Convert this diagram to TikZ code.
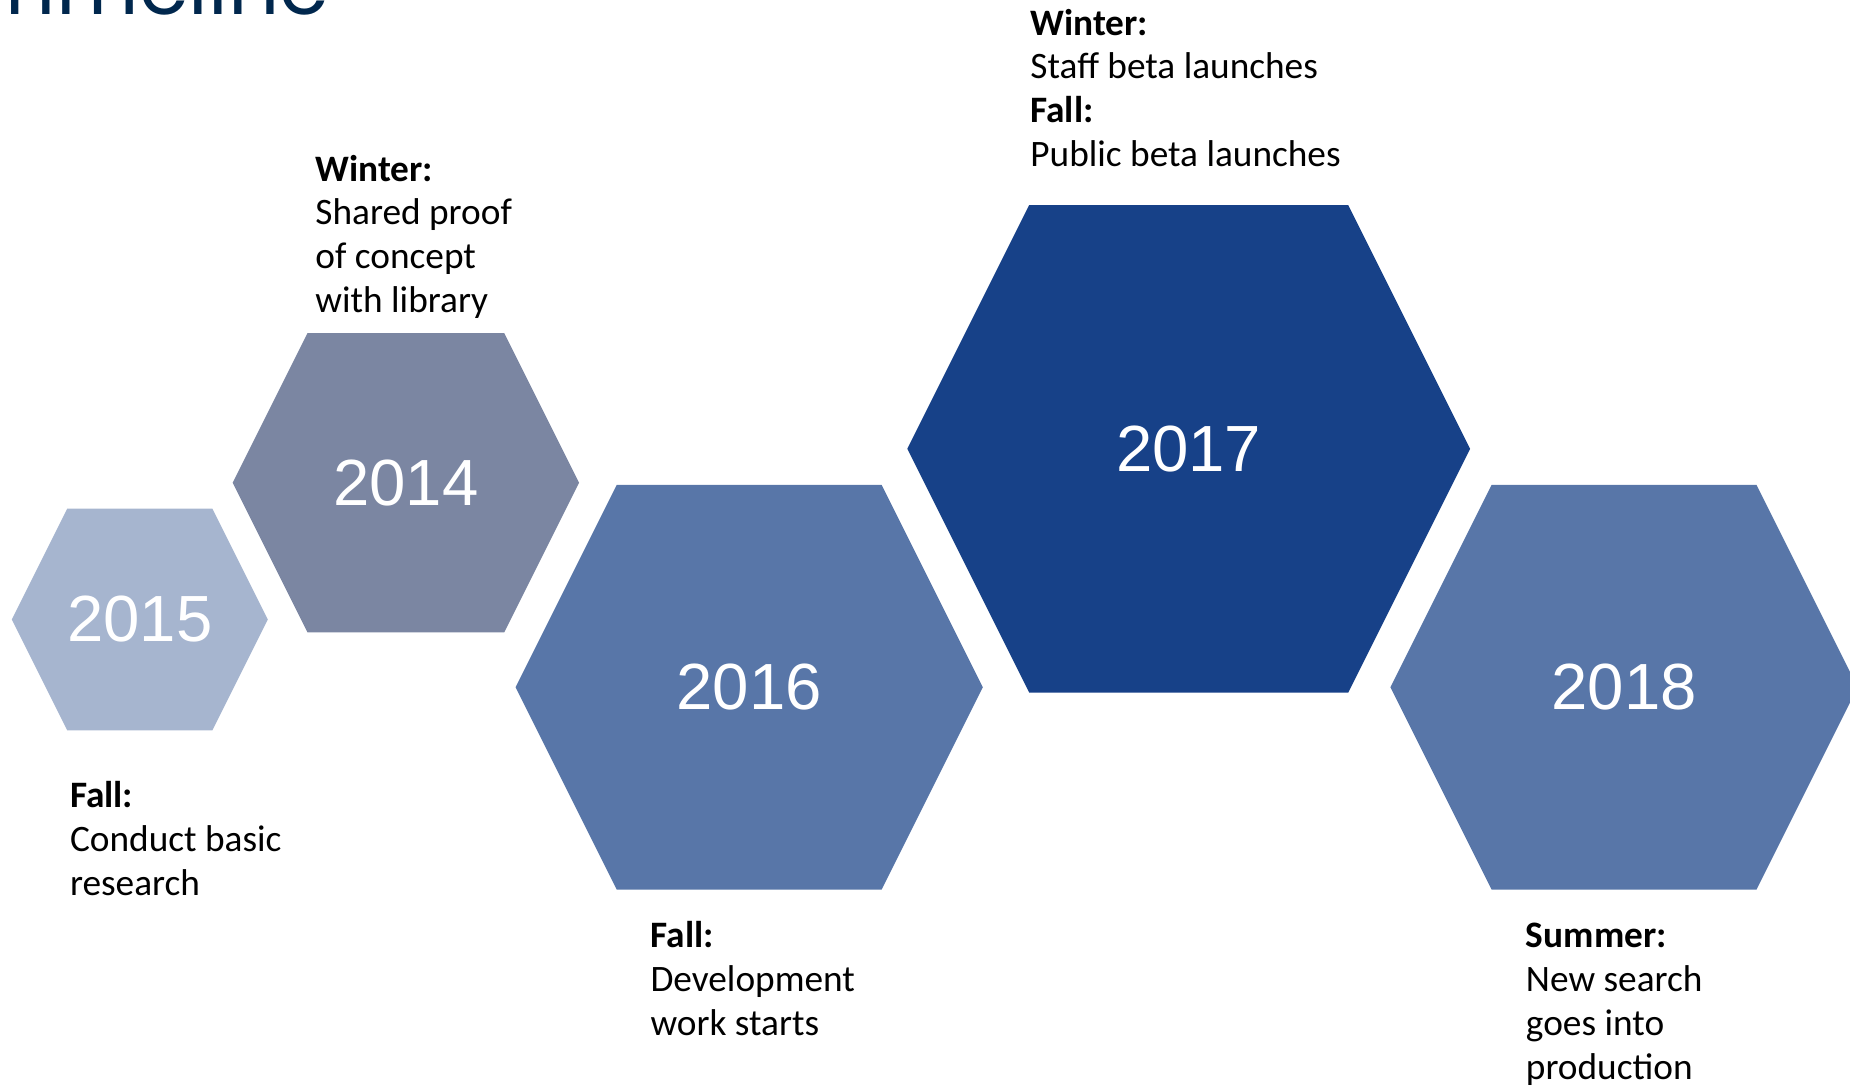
\documentclass[tikz,border=0pt]{standalone}
\usepackage{fontspec}
\newfontfamily\carlito{Carlito}
\newfontfamily\arialf{Liberation Sans}
\newfontfamily\titlef{Poppins}
\definecolor{titleblue}{RGB}{0,39,77}
\definecolor{hexA}{RGB}{166,181,207}
\definecolor{hexB}{RGB}{123,134,162}
\definecolor{hexC}{RGB}{88,118,168}
\definecolor{hexD}{RGB}{23,65,136}
\tikzset{
  yeartext/.style={text=white, font=\arialf\fontsize{31.5}{36}\selectfont, inner sep=0pt},
  labeltext/.style={anchor=base west, inner sep=0pt, text=black, font=\carlito\fontsize{18}{21.15}\selectfont},
  titletext/.style={anchor=base west, inner sep=0pt, text=titleblue}
}
\newcommand\hexshape[7]{%
  \fill[#6] (#2-#4,#3) -- (#2-#4+#5/2,#3-#5) -- (#2+#4-#5/2,#3-#5) -- (#2+#4,#3)
     -- (#2+#4-#5/2,#3+#5) -- (#2-#4+#5/2,#3+#5) -- cycle;
  \node[yeartext] (#1) at (#2,#3) {#7};}
\newcommand\lbl[1]{\begin{tabular}[t]{@{}l@{}}#1\end{tabular}}
\begin{document}
\begin{tikzpicture}[x=0.02cm,y=-0.02cm]
\useasboundingbox (0,0) rectangle (1568,921);
\clip (0,0) rectangle (1568,921);
\node[titletext] (title) at (-6,12.7) {\resizebox{162pt}{!}{\titlef\fontsize{40}{44}\selectfont Timeline}};
\hexshape{y2015}{118.5}{525}{108.5}{94}{hexA}{2015}
\hexshape{y2014}{344}{409.2}{146.8}{126.8}{hexB}{2014}
\hexshape{y2016}{635}{582.5}{198}{171.5}{hexC}{2016}
\hexshape{y2017}{1007.5}{380.4}{238.5}{206.6}{hexD}{2017}
\hexshape{y2018}{1376.5}{582.5}{198}{171.5}{hexC}{2018}
\node[labeltext] (l2015) at (59,684.5) {\lbl{\textbf{Fall:}\\Conduct basic\\research}};
\node[labeltext] (l2014) at (267,153.5) {\lbl{\textbf{Winter:}\\Shared proof\\of concept\\with library}};
\node[labeltext] (l2016) at (551,803.3) {\lbl{\textbf{Fall:}\\Development\\work starts}};
\node[labeltext] (l2017) at (873,29.7) {\lbl{\textbf{Winter:}\\Staff beta launches\\\textbf{Fall:}\\Public beta launches}};
\node[labeltext] (l2018) at (1293,803.3) {\lbl{\textbf{Summer:}\\New search\\goes into\\production}};
\end{tikzpicture}
\end{document}
